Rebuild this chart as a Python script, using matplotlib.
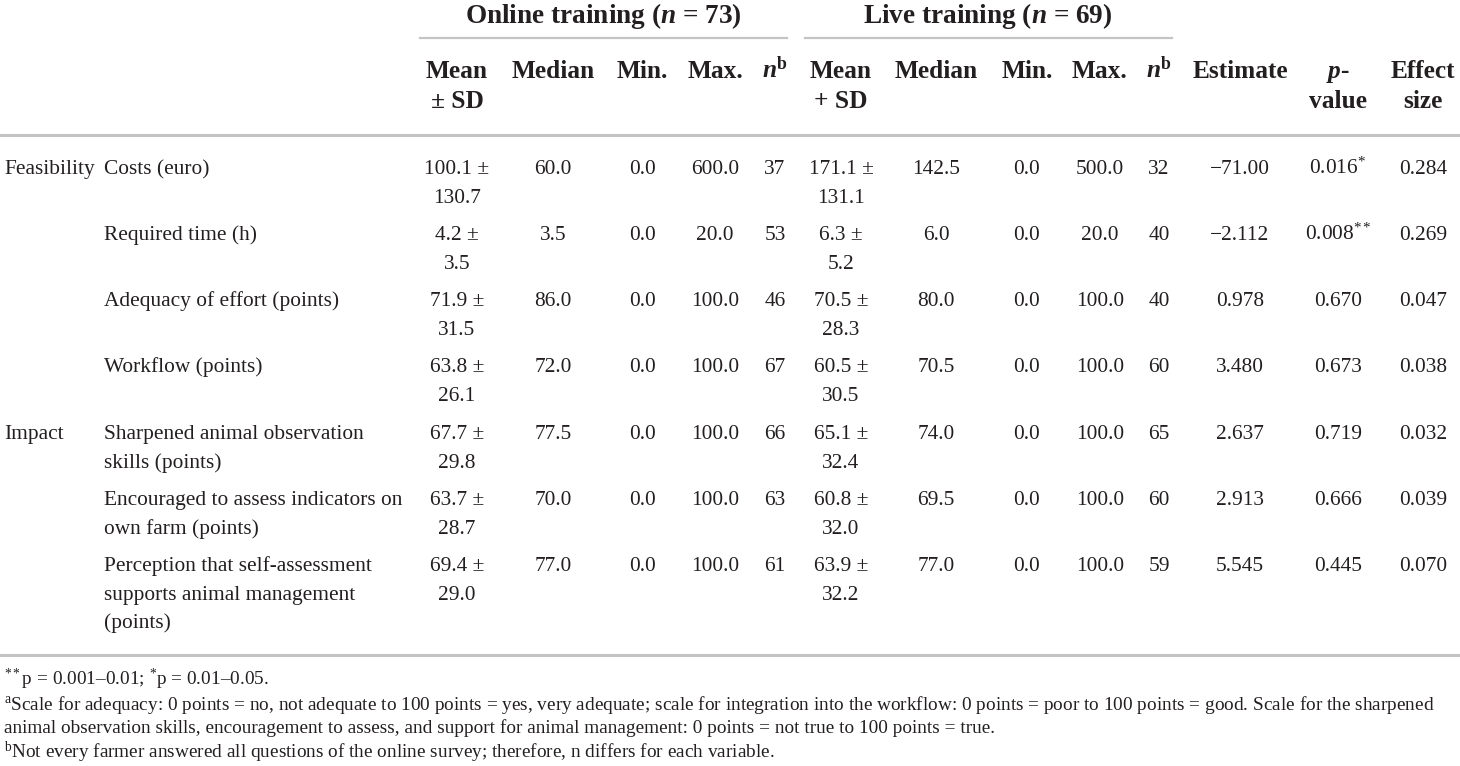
import matplotlib
matplotlib.use("Agg")
import matplotlib.pyplot as plt
from matplotlib.lines import Line2D

plt.rcParams['font.family'] = ['Liberation Serif', 'DejaVu Serif']
plt.rcParams['mathtext.fontset'] = 'custom'
plt.rcParams['mathtext.rm'] = 'Liberation Serif'
plt.rcParams['mathtext.it'] = 'Liberation Serif:italic'
plt.rcParams['mathtext.bf'] = 'Liberation Serif:bold'
plt.rcParams['mathtext.bfit'] = 'Liberation Serif:bold:italic'

# ---- table data ----
groups = ["Feasibility", "", "", "", "Impact", "", ""]
labels = [
    "Costs (euro)",
    "Required time (h)",
    "Adequacy of effort (points)",
    "Workflow (points)",
    "Sharpened animal observation\nskills (points)",
    "Encouraged to assess indicators on\nown farm (points)",
    "Perception that self-assessment\nsupports animal management\n(points)",
]
online_mean = [100.1, 4.2, 71.9, 63.8, 67.7, 63.7, 69.4]
online_sd = [130.7, 3.5, 31.5, 26.1, 29.8, 28.7, 29.0]
online_median = [60.0, 3.5, 86.0, 72.0, 77.5, 70.0, 77.0]
online_min = [0.0, 0.0, 0.0, 0.0, 0.0, 0.0, 0.0]
online_max = [600.0, 20.0, 100.0, 100.0, 100.0, 100.0, 100.0]
online_n = [37, 53, 46, 67, 66, 63, 61]
live_mean = [171.1, 6.3, 70.5, 60.5, 65.1, 60.8, 63.9]
live_sd = [131.1, 5.2, 28.3, 30.5, 32.4, 32.0, 32.2]
live_median = [142.5, 6.0, 80.0, 70.5, 74.0, 69.5, 77.0]
live_min = [0.0, 0.0, 0.0, 0.0, 0.0, 0.0, 0.0]
live_max = [500.0, 20.0, 100.0, 100.0, 100.0, 100.0, 100.0]
live_n = [32, 40, 40, 60, 65, 60, 59]
estimate = ["\u221271.00", "\u22122.112", "0.978", "3.480", "2.637", "2.913", "5.545"]
p_value = ["0.016$^{*}$", "0.008$^{**}$", "0.670", "0.673", "0.719", "0.666", "0.445"]
effect_size = ["0.284", "0.269", "0.047", "0.038", "0.032", "0.039", "0.070"]

group_titles = ["Online training ($\\mathbfit{n}$ = 73)", "Live training ($\\mathbfit{n}$ = 69)"]
nb = "$\\mathbfit{n}^{\\mathbf{b}}$"
col_headers = [["Mean", "\u00b1 SD"], ["Median"], ["Min."], ["Max."], [nb],
               ["Mean", "+ SD"], ["Median"], ["Min."], ["Max."], [nb],
               ["Estimate"], ["$\\mathbfit{p}$-", "value"], ["Effect", "size"]]
footnotes = [
    "$^{**}$p = 0.001\u20130.01; $^{*}$p = 0.01\u20130.05.",
    "$^{\\mathrm{a}}$Scale for adequacy: 0 points = no, not adequate to 100 points = yes, very adequate; "
    "scale for integration into the workflow: 0 points = poor to 100 points = good. Scale for the sharpened",
    "animal observation skills, encouragement to assess, and support for animal management: "
    "0 points = not true to 100 points = true.",
    "$^{\\mathrm{b}}$Not every farmer answered all questions of the online survey; therefore, n differs for each variable.",
]

# ---- layout (pixels, y from top) ----
W, H = 1460, 766
TXT = "#231f20"
RULE = "#c4c4c4"
col_x = [457, 553, 642, 715, 775, 841, 936, 1027, 1100, 1159, 1240, 1338, 1423]
row_y = [167, 233, 299, 365, 432, 498, 564]
line_h = 28.7
body_fs = 15.4
head_fs = 18.3
title_fs = 19.6
foot_fs = 13.9

fig = plt.figure(figsize=(W / 100, H / 100), dpi=100)


def put(x, y, s, **kw):
    kw.setdefault("color", TXT)
    fig.text(x / W, 1 - y / H, s, **kw)


def hline(x0, x1, y, lw=1.6):
    fig.add_artist(Line2D([x0 / W, x1 / W], [1 - y / H, 1 - y / H],
                          transform=fig.transFigure, lw=lw, color=RULE))


# group titles and underlines
put(603, 23, group_titles[0], fontsize=title_fs, fontweight="bold", ha="center", va="baseline")
put(988, 23, group_titles[1], fontsize=title_fs, fontweight="bold", ha="center", va="baseline")
hline(420, 787, 38)
hline(805, 1172, 38)

# column headers
for x, lines in zip(col_x, col_headers):
    for k, s in enumerate(lines):
        put(x, 78 + 30 * k, s, fontsize=head_fs, fontweight="bold", ha="center", va="baseline")

hline(0, W, 135, lw=2.2)

# body
for i, y0 in enumerate(row_y):
    base = y0 + 7
    if groups[i]:
        put(4, base, groups[i], fontsize=body_fs, ha="left", va="baseline")
    for k, s in enumerate(labels[i].split("\n")):
        put(104, base + line_h * k, s, fontsize=body_fs, ha="left", va="baseline")
    cells = [
        [f"{online_mean[i]:.1f} \u00b1", f"{online_sd[i]:.1f}"],
        [f"{online_median[i]:.1f}"],
        [f"{online_min[i]:.1f}"],
        [f"{online_max[i]:.1f}"],
        [f"{online_n[i]}"],
        [f"{live_mean[i]:.1f} \u00b1", f"{live_sd[i]:.1f}"],
        [f"{live_median[i]:.1f}"],
        [f"{live_min[i]:.1f}"],
        [f"{live_max[i]:.1f}"],
        [f"{live_n[i]}"],
        [estimate[i]],
        [p_value[i]],
        [effect_size[i]],
    ]
    for x, lines in zip(col_x, cells):
        for k, s in enumerate(lines):
            put(x, base + line_h * k, s, fontsize=body_fs, ha="center", va="baseline")

hline(0, W, 655, lw=2.2)

# footnotes
for y, s in zip([685, 710, 733, 758], footnotes):
    put(4, y, s, fontsize=foot_fs, ha="left", va="baseline")

fig.savefig("out.png", dpi=100)
